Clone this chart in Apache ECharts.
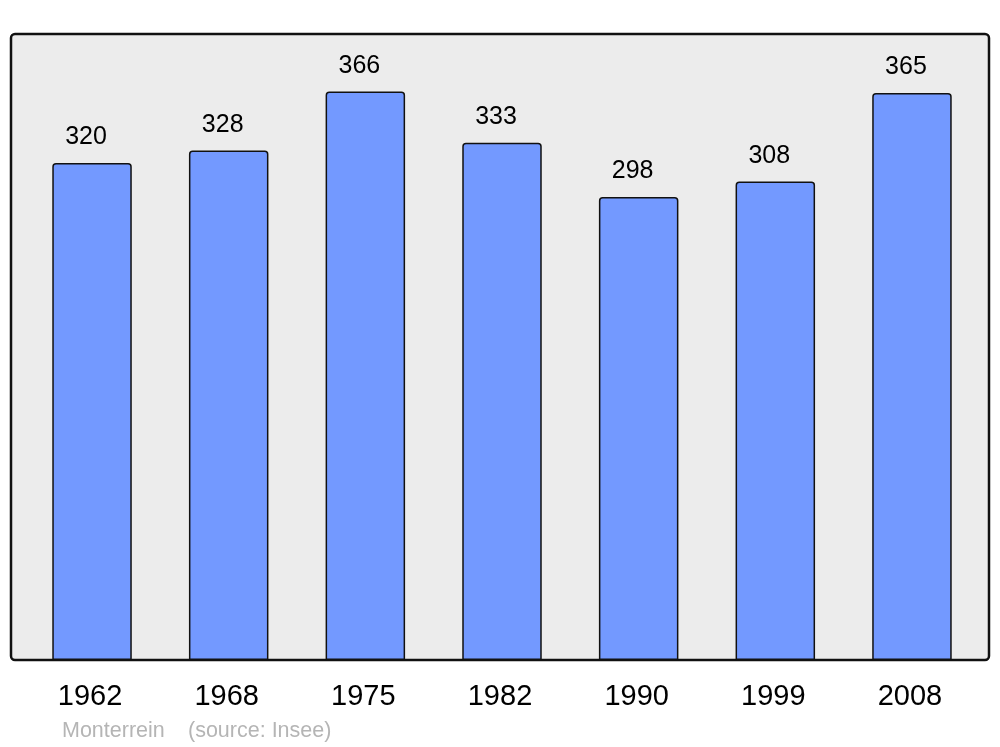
<!DOCTYPE html>
<html><head><meta charset="utf-8">
<script src="https://cdn.jsdelivr.net/npm/echarts@6/dist/echarts.min.js"></script>
<style>html,body{margin:0;padding:0;background:#fff}#c{width:1000px;height:747px}</style>
</head><body><div id="c"></div>
<script>
const years = ['1962','1968','1975','1982','1990','1999','2008'];
const population = [320, 328, 366, 333, 298, 308, 365];
const placeName = 'Monterrein';
const sourceText = '(source: Insee)';

const chart = echarts.init(document.getElementById('c'), null, {renderer:'canvas'});
chart.setOption({
  animation: false,
  textStyle: {fontFamily: 'Liberation Sans, Arial, sans-serif'},
  graphic: [
    {type:'rect', z:-10, shape:{x:11, y:34, width:978, height:626, r:4},
     style:{fill:'#ececec', stroke:'#111', lineWidth:2.5}},
    {type:'text', left:62, top:720, style:{text:placeName, fill:'#b5b5b5', font:'21.5px "Liberation Sans", Arial, sans-serif'}},
    {type:'text', left:188, top:720, style:{text:sourceText, fill:'#b5b5b5', font:'21.5px "Liberation Sans", Arial, sans-serif'}}
  ],
  grid: {left:23.7, right:19.7, top:34, bottom:87, containLabel:false},
  xAxis: {type:'category', data: years,
    axisLine:{show:false}, axisTick:{show:false},
    axisLabel:{color:'#000', fontSize:29, margin:22, padding:[0,4,0,0]}},
  yAxis: {type:'value', min:0, max:403, show:false, splitLine:{show:false}},
  series: [{
    type:'bar', data: population, barWidth:79.5,
    itemStyle:{color:'#7399ff', borderColor:'#111', borderWidth:1.5, borderRadius:[3,3,0,0]},
    label:{show:true, position:'top', distance:13, offset:[-6,0], color:'#000', fontSize:25}
  }]
});
</script></body></html>
